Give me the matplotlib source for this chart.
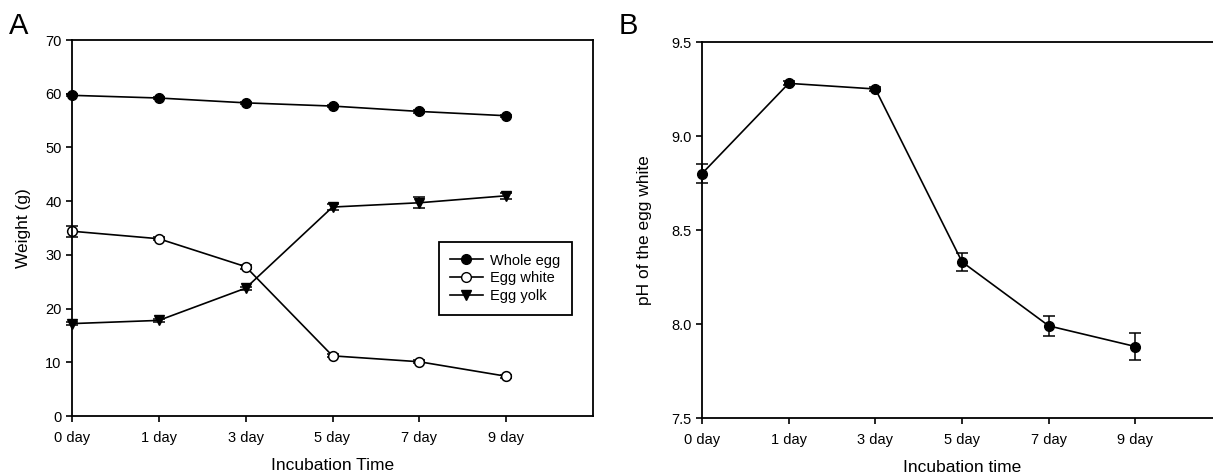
import matplotlib
matplotlib.use("Agg")
import matplotlib.pyplot as plt
from matplotlib.lines import Line2D
import numpy as np

plt.rcParams['font.family'] = ['Liberation Sans', 'DejaVu Sans']

# data
days = ['0 day', '1 day', '3 day', '5 day', '7 day', '9 day']

whole_egg = [59.7, 59.2, 58.3, 57.7, 56.7, 55.9]
whole_egg_err = [0.2, 0.2, 0.2, 0.2, 0.2, 0.2]
egg_white = [34.4, 33.0, 27.8, 11.2, 10.1, 7.4]
egg_white_err = [1.05, 0.3, 0.4, 0.3, 0.3, 0.3]
egg_yolk = [17.2, 17.8, 23.8, 38.9, 39.7, 41.0]
egg_yolk_err = [0.3, 0.3, 0.3, 0.5, 1.0, 0.6]

ph_white = [8.80, 9.28, 9.25, 8.33, 7.99, 7.88]
ph_white_err = [0.05, 0.01, 0.01, 0.05, 0.055, 0.07]

W, H = 1213, 476
fig = plt.figure(figsize=(W / 100, H / 100), dpi=100)

def px_axes(x0, y0, x1, y1):
    return fig.add_axes([x0 / W, 1 - y1 / H, (x1 - x0) / W, (y1 - y0) / H])

def style(ax):
    for s in ax.spines.values():
        s.set_linewidth(1.3)
    ax.tick_params(direction='out', length=4, width=1.2, labelsize=10.5)
    ax.tick_params(axis='x', pad=7)

x = np.arange(len(days))
common = dict(color='black', lw=1.2, capsize=4, elinewidth=1.1, capthick=1.1, ms=7, clip_on=False)

# ---- panel A ----
axA = px_axes(72, 40, 593, 416)
style(axA)
axA.errorbar(x, whole_egg, yerr=whole_egg_err, marker='o', mfc='black', mec='black', **common)
axA.errorbar(x, egg_white, yerr=egg_white_err, marker='o', mfc='white', mec='black', mew=1.1, **common)
axA.errorbar(x, egg_yolk, yerr=egg_yolk_err, marker='v', mfc='black', mec='black', **common)
axA.set_xlim(0, 6)
axA.set_ylim(0, 70)
axA.set_xticks(x)
axA.set_xticklabels(days)
axA.set_yticks(np.arange(0, 71, 10))
axA.set_ylabel('Weight (g)', fontsize=12.5, labelpad=10)
axA.set_xlabel('Incubation Time', fontsize=12.5, labelpad=9)

handles = [
    Line2D([], [], color='black', lw=1.2, marker='o', mfc='black', mec='black', ms=7),
    Line2D([], [], color='black', lw=1.2, marker='o', mfc='white', mec='black', ms=7),
    Line2D([], [], color='black', lw=1.2, marker='v', mfc='black', mec='black', ms=7),
]
leg = axA.legend(handles, ['Whole egg', 'Egg white', 'Egg yolk'],
                 loc='upper left', bbox_to_anchor=(0.704, 0.463), borderaxespad=0, fontsize=10.5,
                 handlelength=2.2, handletextpad=0.5, borderpad=0.8, labelspacing=0.25,
                 fancybox=False, framealpha=1, edgecolor='black')
leg.get_frame().set_linewidth(1.3)
fig.text(19 / W, 1 - 26 / H, 'A', fontsize=21, ha='center', va='center')

# ---- panel B ----
axB = px_axes(702, 42, 702 + 6 * 86.7, 418)
style(axB)
axB.spines['right'].set_visible(False)
axB.errorbar(x, ph_white, yerr=ph_white_err, marker='o', mfc='black', mec='black', **common)
axB.set_xlim(0, 6)
axB.set_ylim(7.5, 9.5)
axB.set_xticks(x)
axB.set_xticklabels(days)
axB.set_yticks([7.5, 8.0, 8.5, 9.0, 9.5])
axB.set_yticklabels(['7.5', '8.0', '8.5', '9.0', '9.5'])
axB.set_ylabel('pH of the egg white', fontsize=12.5, labelpad=14)
axB.set_xlabel('Incubation time', fontsize=12.5, labelpad=9)
fig.text(628 / W, 1 - 26 / H, 'B', fontsize=21, ha='center', va='center')

fig.savefig('out.png', dpi=100)
